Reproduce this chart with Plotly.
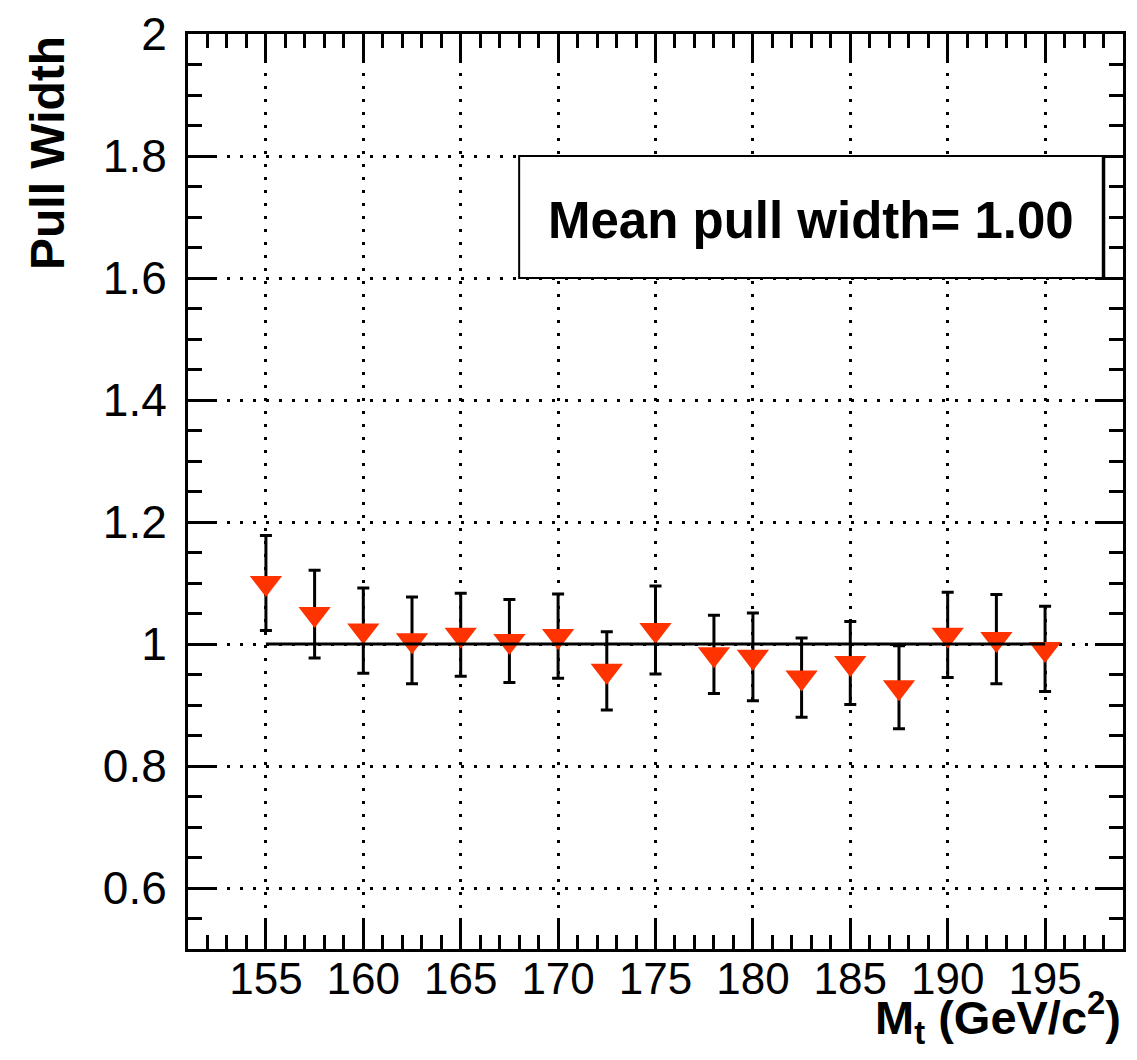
import plotly.graph_objects as go

# ---- data ----
mass = [155, 157.5, 160, 162.5, 165, 167.5, 170, 172.5, 175, 178, 180,
        182.5, 185, 187.5, 190, 192.5, 195]
pull_width = [1.100, 1.049, 1.022, 1.006, 1.015, 1.005, 1.013, 0.956, 1.023,
              0.983, 0.979, 0.945, 0.969, 0.929, 1.015, 1.008, 0.992]
pull_err = [0.078, 0.072, 0.070, 0.071, 0.068, 0.068, 0.069, 0.064, 0.072,
            0.064, 0.072, 0.065, 0.068, 0.068, 0.070, 0.073, 0.070]
fit_x = [155, 195]
fit_y = [1.0, 1.0]
mean_label = "Mean pull width= 1.00"

FONT = "Liberation Sans, Arial, Helvetica, sans-serif"

fig = go.Figure()

fig.add_trace(go.Scatter(
    x=mass, y=pull_width, mode="markers",
    marker=dict(symbol="triangle-down", size=28, color="#ff3300",
                line=dict(width=0)),
    error_y=dict(type="data", array=pull_err, visible=True,
                 color="black", thickness=3, width=6),
    showlegend=False,
))

fig.add_trace(go.Scatter(
    x=fit_x, y=fit_y, mode="lines",
    line=dict(color="black", width=3),
    showlegend=False,
))

axis_common = dict(
    showline=True, linecolor="black", linewidth=3, mirror="ticks",
    ticks="inside", ticklen=28, tickwidth=2.5, tickcolor="black",
    showgrid=True, gridcolor="black", gridwidth=2.5, griddash="3px,10px",
    zeroline=False, automargin=False,
)

fig.update_xaxes(
    range=[151, 199], tick0=155, dtick=5,
    minor=dict(dtick=1, ticklen=14, tickwidth=2.5, tickcolor="black",
               ticks="inside", showgrid=False),
    ticklabelstandoff=-11,
    tickfont=dict(family=FONT, size=44, color="black"),
    **axis_common,
)
fig.update_yaxes(
    range=[0.5, 2.0], tick0=0, dtick=0.2,
    minor=dict(dtick=0.05, ticklen=14, tickwidth=2.5, tickcolor="black",
               ticks="inside", showgrid=False),
    ticklabelstandoff=9,
    tickfont=dict(family=FONT, size=46, color="black"),
    **axis_common,
)

# text box (pave)
box_x = [168, 198]
box_y = [1.6, 1.8]
fig.add_shape(type="rect", xref="x", yref="y",
              x0=box_x[0], x1=box_x[1], y0=box_y[0], y1=box_y[1],
              line=dict(color="black", width=2), fillcolor="white",
              layer="above")
fig.add_shape(type="line", xref="x", yref="y",
              x0=box_x[1], x1=box_x[1], y0=box_y[0], y1=box_y[1],
              line=dict(color="black", width=3.5), layer="above")
fig.add_annotation(x=(box_x[0] + box_x[1]) / 2, y=(box_y[0] + box_y[1]) / 2,
                   xref="x", yref="y", showarrow=False, yshift=-3,
                   text="<b>" + mean_label + "</b>",
                   font=dict(family=FONT, size=51, color="black"))

# axis titles
fig.add_annotation(xref="paper", yref="paper", x=1.0, y=-0.1126,
                   xanchor="right", yanchor="bottom", showarrow=False,
                   yshift=-1,
                   text="<b>M<sub>t</sub> (GeV/c<sup>2</sup>)</b>",
                   font=dict(family=FONT, size=47, color="black"))
fig.add_annotation(xref="paper", yref="paper", x=-0.1508, y=1.0,
                   xanchor="center", yanchor="top", showarrow=False,
                   textangle=-90, text="<b>Pull Width</b>",
                   font=dict(family=FONT, size=48, color="black"))

# page body has an 8px margin: size the figure so it fits the window exactly
fig.update_layout(
    width=1121, height=1044,
    margin=dict(l=180, r=6, t=26, b=103, autoexpand=False),
    paper_bgcolor="white", plot_bgcolor="white",
    font=dict(family=FONT, color="black"),
)

fig.write_html("out.html")
